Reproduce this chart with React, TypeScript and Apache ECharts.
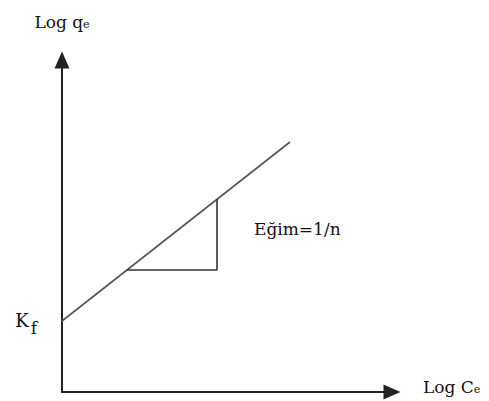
import React, { useEffect, useRef } from "react";
import * as echarts from "echarts";

// Schematic Freundlich isotherm (units: arbitrary, drawn on linear axes)
const lineX = [0, 228];
const lineY = [71, 250];
const triX = [65, 155, 155];
const triY = [122, 122, 193];
const xMax = 330;
const yMax = 332;
const xName = "Log C";
const yName = "Log q";
const subE = "e";
const interceptMain = "K";
const interceptSub = "f";
const slopeText = "Eğim=1/n";

const FONT = "DejaVu Serif";

export default function App() {
  const ref = useRef<HTMLDivElement>(null);
  useEffect(() => {
    if (!ref.current) return;
    const chart = echarts.init(ref.current, null, { renderer: "svg" });
    const rich = {
      m: { fontFamily: FONT, fontSize: 17, color: "#111", lineHeight: 20, verticalAlign: "bottom" },
      s: { fontFamily: FONT, fontSize: 11, color: "#111", lineHeight: 14, verticalAlign: "bottom" },
      k: { fontFamily: FONT, fontSize: 18, color: "#111", lineHeight: 20, verticalAlign: "top" },
      f: {
        fontFamily: FONT,
        fontSize: 17,
        color: "#111",
        lineHeight: 20,
        verticalAlign: "top",
        padding: [8, 0, 0, 2],
      },
    };
    const axisCommon = {
      type: "value" as const,
      min: 0,
      axisLabel: { show: false },
      axisTick: { show: false },
      splitLine: { show: false },
      axisLine: {
        show: true,
        onZero: false,
        symbol: ["none", "triangle"],
        symbolSize: [15, 17],
        lineStyle: { color: "#222", width: 2 },
      },
    };
    chart.setOption({
      animation: false,
      backgroundColor: "#fff",
      grid: { left: 62, top: 60, right: 97, bottom: 9 },
      xAxis: {
        ...axisCommon,
        max: xMax,
        name: `{m|${xName}}{s|${subE}}`,
        nameLocation: "end",
        nameGap: 31,
        nameTextStyle: { rich, padding: [0, 0, 14, 0] },
      },
      yAxis: {
        ...axisCommon,
        max: yMax,
        name: `{m|${yName}}{s|${subE}}`,
        nameLocation: "end",
        nameGap: 30,
        nameTextStyle: { rich },
      },
      series: [
        {
          type: "line",
          data: lineX.map((x, i) => [x, lineY[i]]),
          showSymbol: false,
          lineStyle: { color: "#555", width: 1.6 },
          markPoint: {
            symbol: "circle",
            symbolSize: 0,
            data: [
              {
                coord: [lineX[0], lineY[0]],
                label: {
                  show: true,
                  position: "left",
                  distance: 25,
                  formatter: `{k|${interceptMain}}{f|${interceptSub}}`,
                  rich,
                },
              },
            ],
          },
        },
        {
          type: "line",
          data: triX.map((x, i) => [x, triY[i]]),
          showSymbol: false,
          lineStyle: { color: "#333", width: 1.6 },
        },
      ],
      graphic: [
        {
          type: "text",
          left: 254,
          top: 220,
          style: { text: slopeText, font: `17px "${FONT}"`, fill: "#111" },
        },
      ],
    });
    return () => chart.dispose();
  }, []);
  return (
    <div
      ref={ref}
      style={{ position: "absolute", left: 0, top: 0, width: 489, height: 401, background: "#fff" }}
    />
  );
}
